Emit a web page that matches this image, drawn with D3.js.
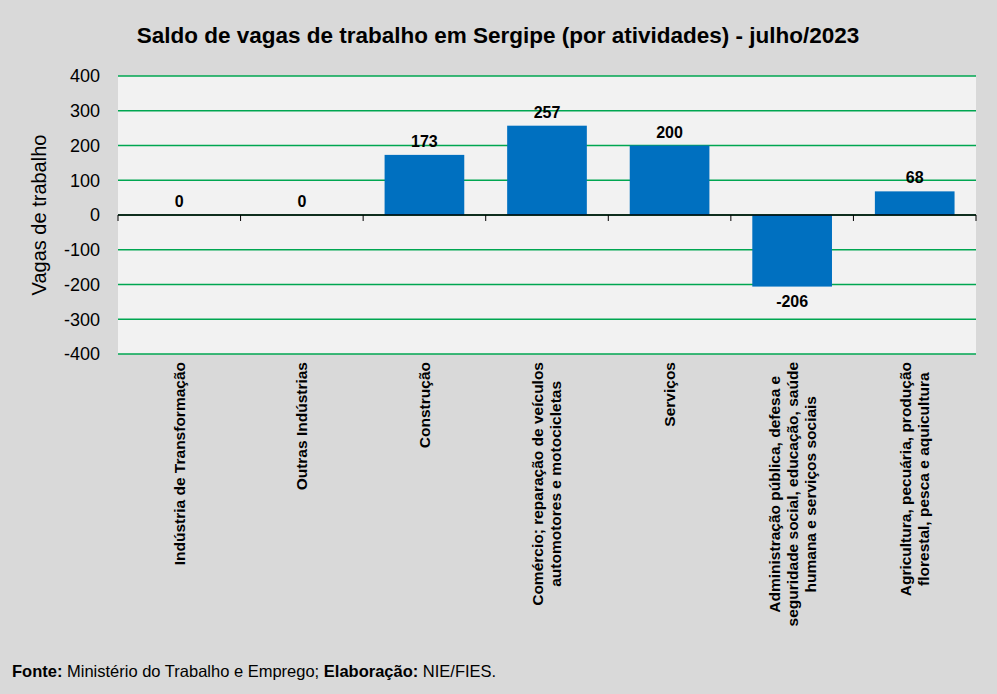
<!DOCTYPE html>
<html><head><meta charset="utf-8">
<script src="https://cdn.jsdelivr.net/npm/d3@7"></script>
<style>body{margin:0;background:#d9d9d9;font-family:"Liberation Sans",Arial,sans-serif}</style>
</head><body><svg id="c" width="997" height="694"></svg>
<script>
const categories = [
  ["Indústria de Transformação"],
  ["Outras Indústrias"],
  ["Construção"],
  ["Comércio; reparação de veículos", "automotores e motocicletas"],
  ["Serviços"],
  ["Administração pública, defesa e", "seguridade social, educação, saúde", "humana e serviços sociais"],
  ["Agricultura, pecuária, produção", "florestal, pesca e aquicultura"]
];
const values = [0, 0, 173, 257, 200, -206, 68];
const yTicks = [400, 300, 200, 100, 0, -100, -200, -300, -400];

const svg = d3.select("#c");
const mL = 118, mR = 976, mT = 76, mB = 354;
svg.append("rect").attr("width", 997).attr("height", 694).attr("fill", "#d9d9d9");
svg.append("rect").attr("x", mL).attr("y", mT).attr("width", mR - mL).attr("height", mB - mT).attr("fill", "#f2f2f2");

const x = d3.scaleBand().domain(d3.range(values.length)).range([mL, mR]).paddingInner(0.35).paddingOuter(0.175);
const y = d3.scaleLinear().domain([-400, 400]).range([mB, mT]);

// grid
svg.append("g").selectAll("line").data(yTicks).join("line")
  .attr("x1", mL).attr("x2", mR).attr("y1", d => y(d)).attr("y2", d => y(d))
  .attr("stroke", "#00a651").attr("stroke-width", 1.3);

// y axis labels
svg.append("g").selectAll("text").data(yTicks).join("text")
  .attr("x", 100).attr("y", d => y(d)).attr("dy", "0.35em").attr("text-anchor", "end")
  .attr("font-size", 18).attr("fill", "#000").text(d => d);

svg.append("text").attr("transform", `translate(46,${y(0)}) rotate(-90)`).attr("text-anchor", "middle")
  .attr("font-size", 20).text("Vagas de trabalho");

// bars
svg.append("g").selectAll("rect").data(values).join("rect")
  .attr("x", (d, i) => x(i)).attr("width", x.bandwidth())
  .attr("y", d => y(Math.max(0, d))).attr("height", d => Math.abs(y(d) - y(0)))
  .attr("fill", "#0070c0");

// zero axis
svg.append("line").attr("x1", mL).attr("x2", mR).attr("y1", y(0)).attr("y2", y(0)).attr("stroke", "#000").attr("stroke-width", 1.3);
svg.append("g").selectAll("line").data(d3.range(values.length + 1)).join("line")
  .attr("x1", i => mL + i * (mR - mL) / values.length).attr("x2", i => mL + i * (mR - mL) / values.length)
  .attr("y1", y(0)).attr("y2", y(0) + 6).attr("stroke", "#000");

// value labels
svg.append("g").selectAll("text").data(values).join("text")
  .attr("x", (d, i) => x(i) + x.bandwidth() / 2)
  .attr("y", d => d >= 0 ? y(d) - 8 : y(d) + 20)
  .attr("text-anchor", "middle").attr("font-size", 16).attr("font-weight", "bold").text(d => d);

// category labels
const cg = svg.append("g").selectAll("g").data(categories).join("g")
  .attr("transform", (d, i) => `translate(${x(i) + x.bandwidth() / 2},362) rotate(-90)`);
cg.each(function(lines) {
  const n = lines.length;
  d3.select(this).selectAll("text").data(lines).join("text")
    .attr("x", 0).attr("y", (l, j) => (j - (n - 1) / 2) * 18).attr("dy", "0.35em")
    .attr("text-anchor", "end").attr("font-size", 15.5).attr("font-weight", "bold").text(l => l);
});
cg.each(function() {
  const texts = d3.select(this).selectAll("text");
  let maxW = 0; texts.each(function() { maxW = Math.max(maxW, this.getComputedTextLength()); });
  texts.attr("x", function() { return -(maxW - this.getComputedTextLength()) / 2; });
});

svg.append("text").attr("x", 498).attr("y", 43).attr("text-anchor", "middle")
  .attr("font-size", 22.5).attr("font-weight", "bold").text("Saldo de vagas de trabalho em Sergipe (por atividades) - julho/2023");

const f = svg.append("text").attr("x", 12).attr("y", 677).attr("font-size", 16.5);
f.append("tspan").attr("font-weight", "bold").text("Fonte:");
f.append("tspan").text(" Ministério do Trabalho e Emprego; ");
f.append("tspan").attr("font-weight", "bold").text("Elaboração:");
f.append("tspan").text(" NIE/FIES.");
</script></body></html>
